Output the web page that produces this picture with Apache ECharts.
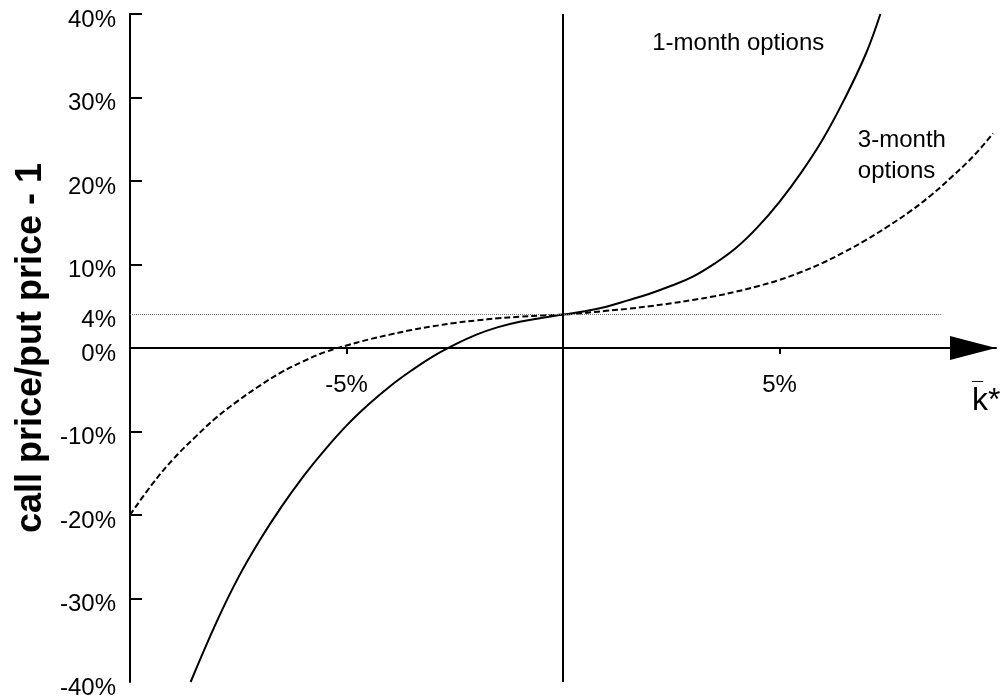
<!DOCTYPE html>
<html>
<head>
<meta charset="utf-8">
<script src="https://cdn.jsdelivr.net/npm/echarts@6/dist/echarts.min.js"></script>
<style>
  html, body { margin: 0; padding: 0; background: #fff; }
  #chart { width: 1006px; height: 700px; }
</style>
</head>
<body>
<div id="chart"></div>
<script>
// strike k* in %, ratio call/put - 1 in %
var oneMonthK = [-8.6, -8, -7.5, -7, -6.5, -6, -5.5, -5, -4.5, -4, -3.5, -3, -2.5, -2, -1.5, -1, -0.5,
  0, 0.5, 1, 1.5, 2, 2.5, 3, 3.5, 4, 4.5, 5, 5.5, 6, 6.5, 7, 7.33];
var oneMonthRatio = [-40, -32.8, -27.5, -23.0, -19.0, -15.4, -12.2, -9.3, -6.8, -4.6, -2.7, -1.0, 0.4, 1.6, 2.5, 3.15, 3.6,
  4, 4.4, 4.95, 5.7, 6.5, 7.45, 8.55, 10.1, 12.0, 14.5, 17.5, 21.0, 25.0, 29.8, 35.3, 40];
var threeMonthK = [-10, -9.5, -9, -8.5, -8, -7.5, -7, -6.5, -6, -5.5, -5, -4.5, -4, -3.5, -3, -2.5, -2, -1.5, -1, -0.5,
  0, 0.5, 1, 1.5, 2, 2.5, 3, 3.5, 4, 4.5, 5, 5.5, 6, 6.5, 7, 7.5, 8, 8.5, 9, 9.5, 9.93];
var threeMonthRatio = [-20, -16.4, -13.3, -10.7, -8.3, -6.3, -4.5, -2.9, -1.6, -0.5, 0.3, 1.0, 1.6, 2.15, 2.6, 3.0, 3.3, 3.55, 3.75, 3.9,
  4, 4.2, 4.45, 4.7, 5.0, 5.35, 5.75, 6.2, 6.75, 7.4, 8.15, 9.1, 10.2, 11.5, 12.95, 14.55, 16.3, 18.3, 20.6, 23.1, 25.7];

var yLabelValues = [-40, -30, -20, -10, 0, 4, 10, 20, 30, 40];
var yTickValues = [-30, -20, -10, 0, 10, 20, 30, 40];
var xTickValues = [-5, 5];
var forwardLevel = 4;
var forwardLineK = [-10, 8.75];
var curveNames = ['1-month options', '3-month\noptions'];
var labelAnchors = [[2.06, 36.5], [6.81, 23.0]];

var FONT = '"Liberation Sans", Arial, sans-serif';

function pairs(xs, ys) {
  return xs.map(function (x, i) { return [x, ys[i]]; });
}

var chart = echarts.init(document.getElementById('chart'), null, { renderer: 'canvas' });

// x axis is drawn through y = 0 (middle of the plot) by shifting it up from the bottom
var plotTop = 14, plotBottom = 18, plotHeight = 700 - plotTop - plotBottom;

var option = {
  animation: false,
  backgroundColor: '#fff',
  grid: { left: 130, right: 10, top: plotTop, bottom: plotBottom, outerBoundsMode: 'none', containLabel: false },
  xAxis: {
    type: 'value',
    min: -10,
    max: 10,
    interval: 5,
    offset: -plotHeight / 2,
    splitLine: { show: false },
    axisLine: {
      onZero: false,
      lineStyle: { color: '#000', width: 2 },
      symbol: ['none', 'triangle'],
      symbolSize: [24, 46],
      symbolOffset: [0, -23]
    },
    axisTick: { customValues: xTickValues, length: 6, lineStyle: { color: '#000', width: 2 } },
    axisLabel: {
      customValues: xTickValues,
      margin: 25,
      color: '#000',
      fontSize: 24,
      fontFamily: FONT,
      formatter: function (v) { return v + '%'; }
    },
    name: '{m|¯}\n{k|k*}',
    nameLocation: 'end',
    nameGap: -24,
    nameTextStyle: {
      align: 'left',
      verticalAlign: 'top',
      padding: [41, 0, 0, 0],
      rich: {
        m: { fontSize: 20, lineHeight: 2, color: '#000', fontFamily: FONT },
        k: { fontSize: 32, lineHeight: 20, color: '#000', fontFamily: FONT }
      }
    }
  },
  yAxis: {
    type: 'value',
    min: -40,
    max: 40,
    interval: 10,
    splitLine: { show: false },
    axisLine: { onZero: false, lineStyle: { color: '#000', width: 2 } },
    axisTick: { inside: true, length: 12, customValues: yTickValues, lineStyle: { color: '#000', width: 2 } },
    axisLabel: {
      customValues: yLabelValues,
      margin: 14,
      color: '#000',
      fontSize: 24,
      fontFamily: FONT,
      verticalAlign: 'top',
      lineHeight: 12,
      formatter: function (v) { return v + '%'; }
    },
    name: 'call price/put price - 1',
    nameLocation: 'middle',
    nameGap: 80,
    nameTextStyle: { color: '#000', fontSize: 36, fontWeight: 'bold', fontFamily: FONT }
  },
  series: [
    {
      name: curveNames[0],
      type: 'line',
      data: pairs(oneMonthK, oneMonthRatio),
      showSymbol: false,
      smooth: 0.4,
      lineStyle: { color: '#000', width: 2 },
      z: 3,
      markLine: {
        silent: true,
        symbol: 'none',
        label: { show: false },
        data: [
          [
            { coord: [forwardLineK[0], forwardLevel], lineStyle: { color: '#777', width: 1, type: [1, 1] } },
            { coord: [forwardLineK[1], forwardLevel] }
          ],
          { xAxis: 0, lineStyle: { color: '#000', width: 2, type: 'solid' } }
        ]
      },
      markPoint: {
        silent: true,
        symbolSize: 0,
        data: [{ coord: labelAnchors[0] }],
        label: {
          show: true,
          position: 'right',
          distance: 0,
          formatter: curveNames[0],
          color: '#000',
          fontSize: 24,
          fontFamily: FONT
        }
      }
    },
    {
      name: curveNames[1],
      type: 'line',
      data: pairs(threeMonthK, threeMonthRatio),
      showSymbol: false,
      smooth: 0.4,
      lineStyle: { color: '#000', width: 2, type: [6, 3] },
      z: 3,
      markPoint: {
        silent: true,
        symbolSize: 0,
        data: [{ coord: labelAnchors[1] }],
        label: {
          show: true,
          position: 'right',
          distance: 0,
          formatter: curveNames[1],
          lineHeight: 31,
          color: '#000',
          fontSize: 24,
          fontFamily: FONT
        }
      }
    }
  ]
};

chart.setOption(option);
</script>
</body>
</html>
